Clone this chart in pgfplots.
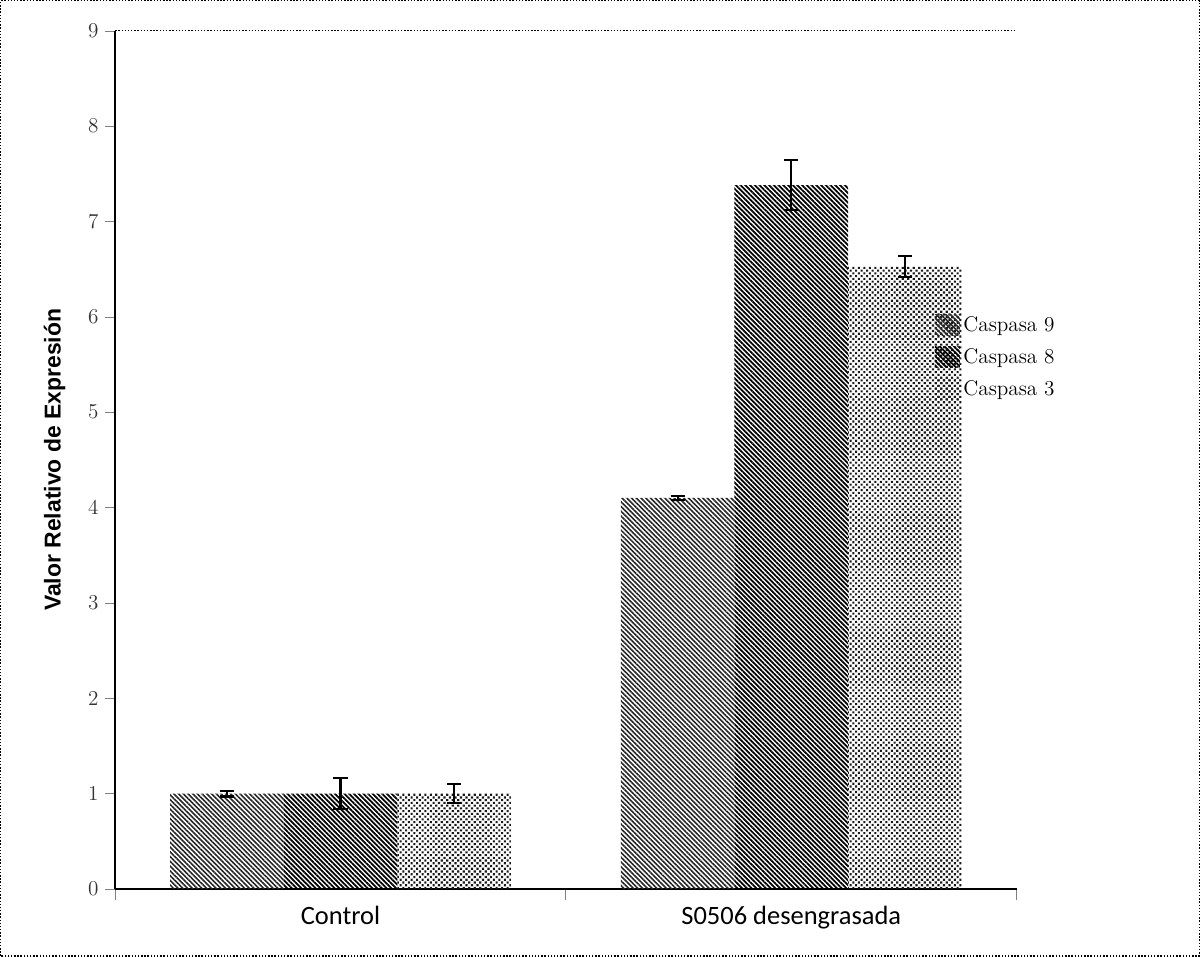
\documentclass[border=0pt]{standalone}
\usepackage{pgfplots}
\pgfplotsset{compat=1.18}
\usepackage{fontspec}
\usetikzlibrary{patterns.meta}
\newfontfamily\carlito{Carlito}
\newfontfamily\arialb{Liberation Sans}
\begin{document}
\begin{tikzpicture}
\begin{axis}[
  width=17.96cm, height=17.1cm, scale only axis,
  xmin=-0.5, xmax=1.5, ymin=0, ymax=9,
  axis x line*=bottom, axis y line*=left,
  axis line style={line width=0.8pt, -},
  xtick={-0.5,0.5,1.5}, xticklabels={},
  extra x ticks={0,1}, extra x tick labels={Control,S0506 desengrasada},
  extra x tick style={major tick length=0pt, tick label style={font=\carlito\fontsize{15}{18}\selectfont, yshift=-6pt}},
  x tick style={line width=0.6pt}, major tick length=6pt,
  ytick={0,...,9},
  tick align=outside,
  y tick label style={font=\fontsize{12}{14}\selectfont, text=black!80},
  ylabel={\arialb\bfseries\fontsize{13}{15}\selectfont Valor Relativo de Expresión},
  ylabel style={yshift=6pt},
  bar width=2.263cm,
  clip=false,
  legend style={at={(rel axis cs:0.903,0.675)}, anchor=north west, draw=none, fill=none,
    font=\fontsize{12}{14}\selectfont, row sep=4pt},
  legend cell align=left,
  legend image code/.code={\path[#1] (0cm,-0.2cm) rectangle (0.5cm,0.22cm);},
  error bars/error bar style={line width=1.2pt, black},
  error bars/error mark options={rotate=90, mark size=4pt, line width=1.2pt, black},
]
\addplot[ybar, bar shift=-2.263cm, draw=none, pattern={Lines[angle=-45,distance=1.9pt,line width=0.9pt]}, pattern color=black!85]
  coordinates {(0,1.0) (1,4.1)};
\addlegendentry{Caspasa 9}
\addplot[ybar, bar shift=0cm, draw=none, pattern={Lines[angle=-45,distance=1.9pt,line width=1.0pt]}, pattern color=black]
  coordinates {(0,1.0) (1,7.38)};
\addlegendentry{Caspasa 8}
\addplot[ybar, bar shift=2.263cm, draw=none, pattern={Dots[angle=45,distance=2.2pt,radius=0.85pt]}, pattern color=black!90]
  coordinates {(0,1.0) (1,6.53)};
\addlegendentry{Caspasa 3}
% error bars at the bar centres
\addplot[draw=none, mark=none, forget plot, error bars/.cd, y dir=both, y explicit]
  coordinates {(-0.252,1.0) +- (0,0.03) (0.748,4.1) +- (0,0.02)};
\addplot[draw=none, mark=none, forget plot, error bars/.cd, y dir=both, y explicit]
  coordinates {(0,1.0) +- (0,0.16) (1,7.38) +- (0,0.26)};
\addplot[draw=none, mark=none, forget plot, error bars/.cd, y dir=both, y explicit]
  coordinates {(0.252,1.0) +- (0,0.1) (1.252,6.53) +- (0,0.11)};
\draw[densely dotted, line width=0.8pt] (rel axis cs:0,1) -- (rel axis cs:1,1);
\draw[densely dotted, line width=0.8pt] (rel axis cs:-0.127,-0.078) rectangle (rel axis cs:1.2027,1.035);
\end{axis}
\end{tikzpicture}
\end{document}
